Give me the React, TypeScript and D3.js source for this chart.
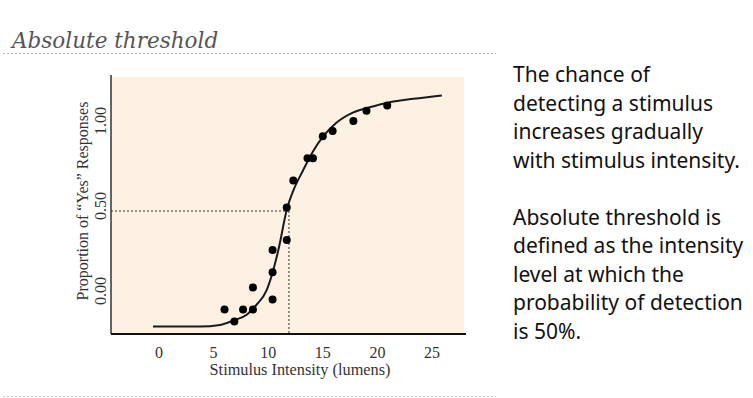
import React from 'react';
import * as d3 from 'd3';

const pointIntensity = [6.0, 6.9, 7.7, 8.6, 8.6, 10.4, 10.4, 10.4, 11.7, 11.7, 12.3, 13.6, 14.1, 15.0, 15.9, 17.8, 19.0, 20.9];
const pointProportion = [-0.08, -0.15, -0.08, -0.08, 0.05, -0.02, 0.14, 0.27, 0.33, 0.52, 0.68, 0.81, 0.81, 0.94, 0.97, 1.03, 1.09, 1.12];

// fitted psychometric curve
const curveIntensity = [-0.55, 3.75, 5.59, 6.78, 8.03, 8.95, 9.86, 10.41, 10.93, 11.75, 12.3, 13.2, 14.1, 15.05, 16.27, 17.8, 19.3, 21.15, 23.3, 25.9];
const curveProportion = [-0.18, -0.18, -0.17, -0.145, -0.11, -0.05, 0.035, 0.14, 0.27, 0.52, 0.62, 0.74, 0.85, 0.94, 1.02, 1.08, 1.11, 1.14, 1.16, 1.18];

const xTicks = [0, 5, 10, 15, 20, 25];
const yTicks = [0, 0.5, 1];
const threshold = { intensity: 11.9, proportion: 0.5 };

const sideText = [
  'The chance of',
  'detecting a stimulus',
  'increases gradually',
  'with stimulus intensity.',
  '',
  'Absolute threshold is',
  'defined as the intensity',
  'level at which the',
  'probability of detection',
  'is 50%.',
];

const W = 753;
const H = 398;
const plot = { left: 111, right: 464, top: 75, bottom: 334 };

export default function App() {
  const x = d3.scaleLinear().domain([0, 25]).range([159, 432]);
  const y = d3.scaleLinear().domain([0, 1]).range([296, 126]);

  const curve = curveIntensity.map((v, i) => [v, curveProportion[i]] as [number, number]);
  const line = d3.line<[number, number]>()
    .x(d => x(d[0]))
    .y(d => y(d[1]))
    .curve(d3.curveMonotoneX);

  const serif = '"Liberation Serif", "DejaVu Serif", serif';

  return (
    <svg width={W} height={H} style={{ position: 'absolute', left: 0, top: 0, background: '#fff' }}>
      {/* slide title */}
      <text x={12} y={48} fontFamily='"DejaVu Serif", serif' fontStyle="italic" fontSize={21.5} fill="#555">
        Absolute threshold
      </text>
      <line x1={3} x2={496} y1={53.5} y2={53.5} stroke="#b8b8b8" strokeDasharray="2,2" />
      <line x1={3} x2={496} y1={396.5} y2={396.5} stroke="#c8c8c8" strokeDasharray="2,2" />

      {/* plot panel */}
      <rect x={plot.left} y={plot.top + 2} width={plot.right - plot.left} height={plot.bottom - plot.top - 2} fill="#fdf1e3" />
      <line x1={plot.left} x2={plot.left} y1={plot.top} y2={plot.bottom} stroke="#333" strokeWidth={1.5} />
      <line x1={plot.left} x2={plot.right + 2} y1={plot.bottom} y2={plot.bottom} stroke="#111" strokeWidth={2} />

      {/* threshold guides */}
      <line x1={plot.left} x2={x(threshold.intensity)} y1={y(threshold.proportion)} y2={y(threshold.proportion)}
        stroke="#333" strokeWidth={1} strokeDasharray="2,2" />
      <line x1={x(threshold.intensity)} x2={x(threshold.intensity)} y1={y(threshold.proportion)} y2={plot.bottom}
        stroke="#333" strokeWidth={1} strokeDasharray="2,2" />

      <path d={line(curve) ?? ''} fill="none" stroke="#1a1a1a" strokeWidth={2} />

      {pointIntensity.map((v, i) => (
        <circle key={i} cx={x(v)} cy={y(pointProportion[i])} r={4} fill="#000" />
      ))}

      {/* x axis labels */}
      {xTicks.map(t => (
        <text key={t} x={x(t)} y={358} textAnchor="middle" fontFamily={serif} fontSize={16} fill="#333">{t}</text>
      ))}
      <text x={300} y={375} textAnchor="middle" fontFamily={serif} fontSize={16.3} fill="#333">
        Stimulus Intensity (lumens)
      </text>

      {/* y axis labels (rotated) */}
      {yTicks.map(t => (
        <text key={t} transform={`translate(106,${y(t) - 5}) rotate(-90)`} textAnchor="middle"
          fontFamily={serif} fontSize={16} fill="#333">{t.toFixed(2)}</text>
      ))}
      <text transform="translate(88,201) rotate(-90)" textAnchor="middle" fontFamily={serif} fontSize={16} fill="#333">
        Proportion of “Yes” Responses
      </text>

      {/* explanation */}
      {sideText.map((s, i) => (
        <text key={i} x={513} y={82 + i * 28.5} fontFamily='"Noto Sans", sans-serif' fontSize={21} fill="#111">{s}</text>
      ))}
    </svg>
  );
}
